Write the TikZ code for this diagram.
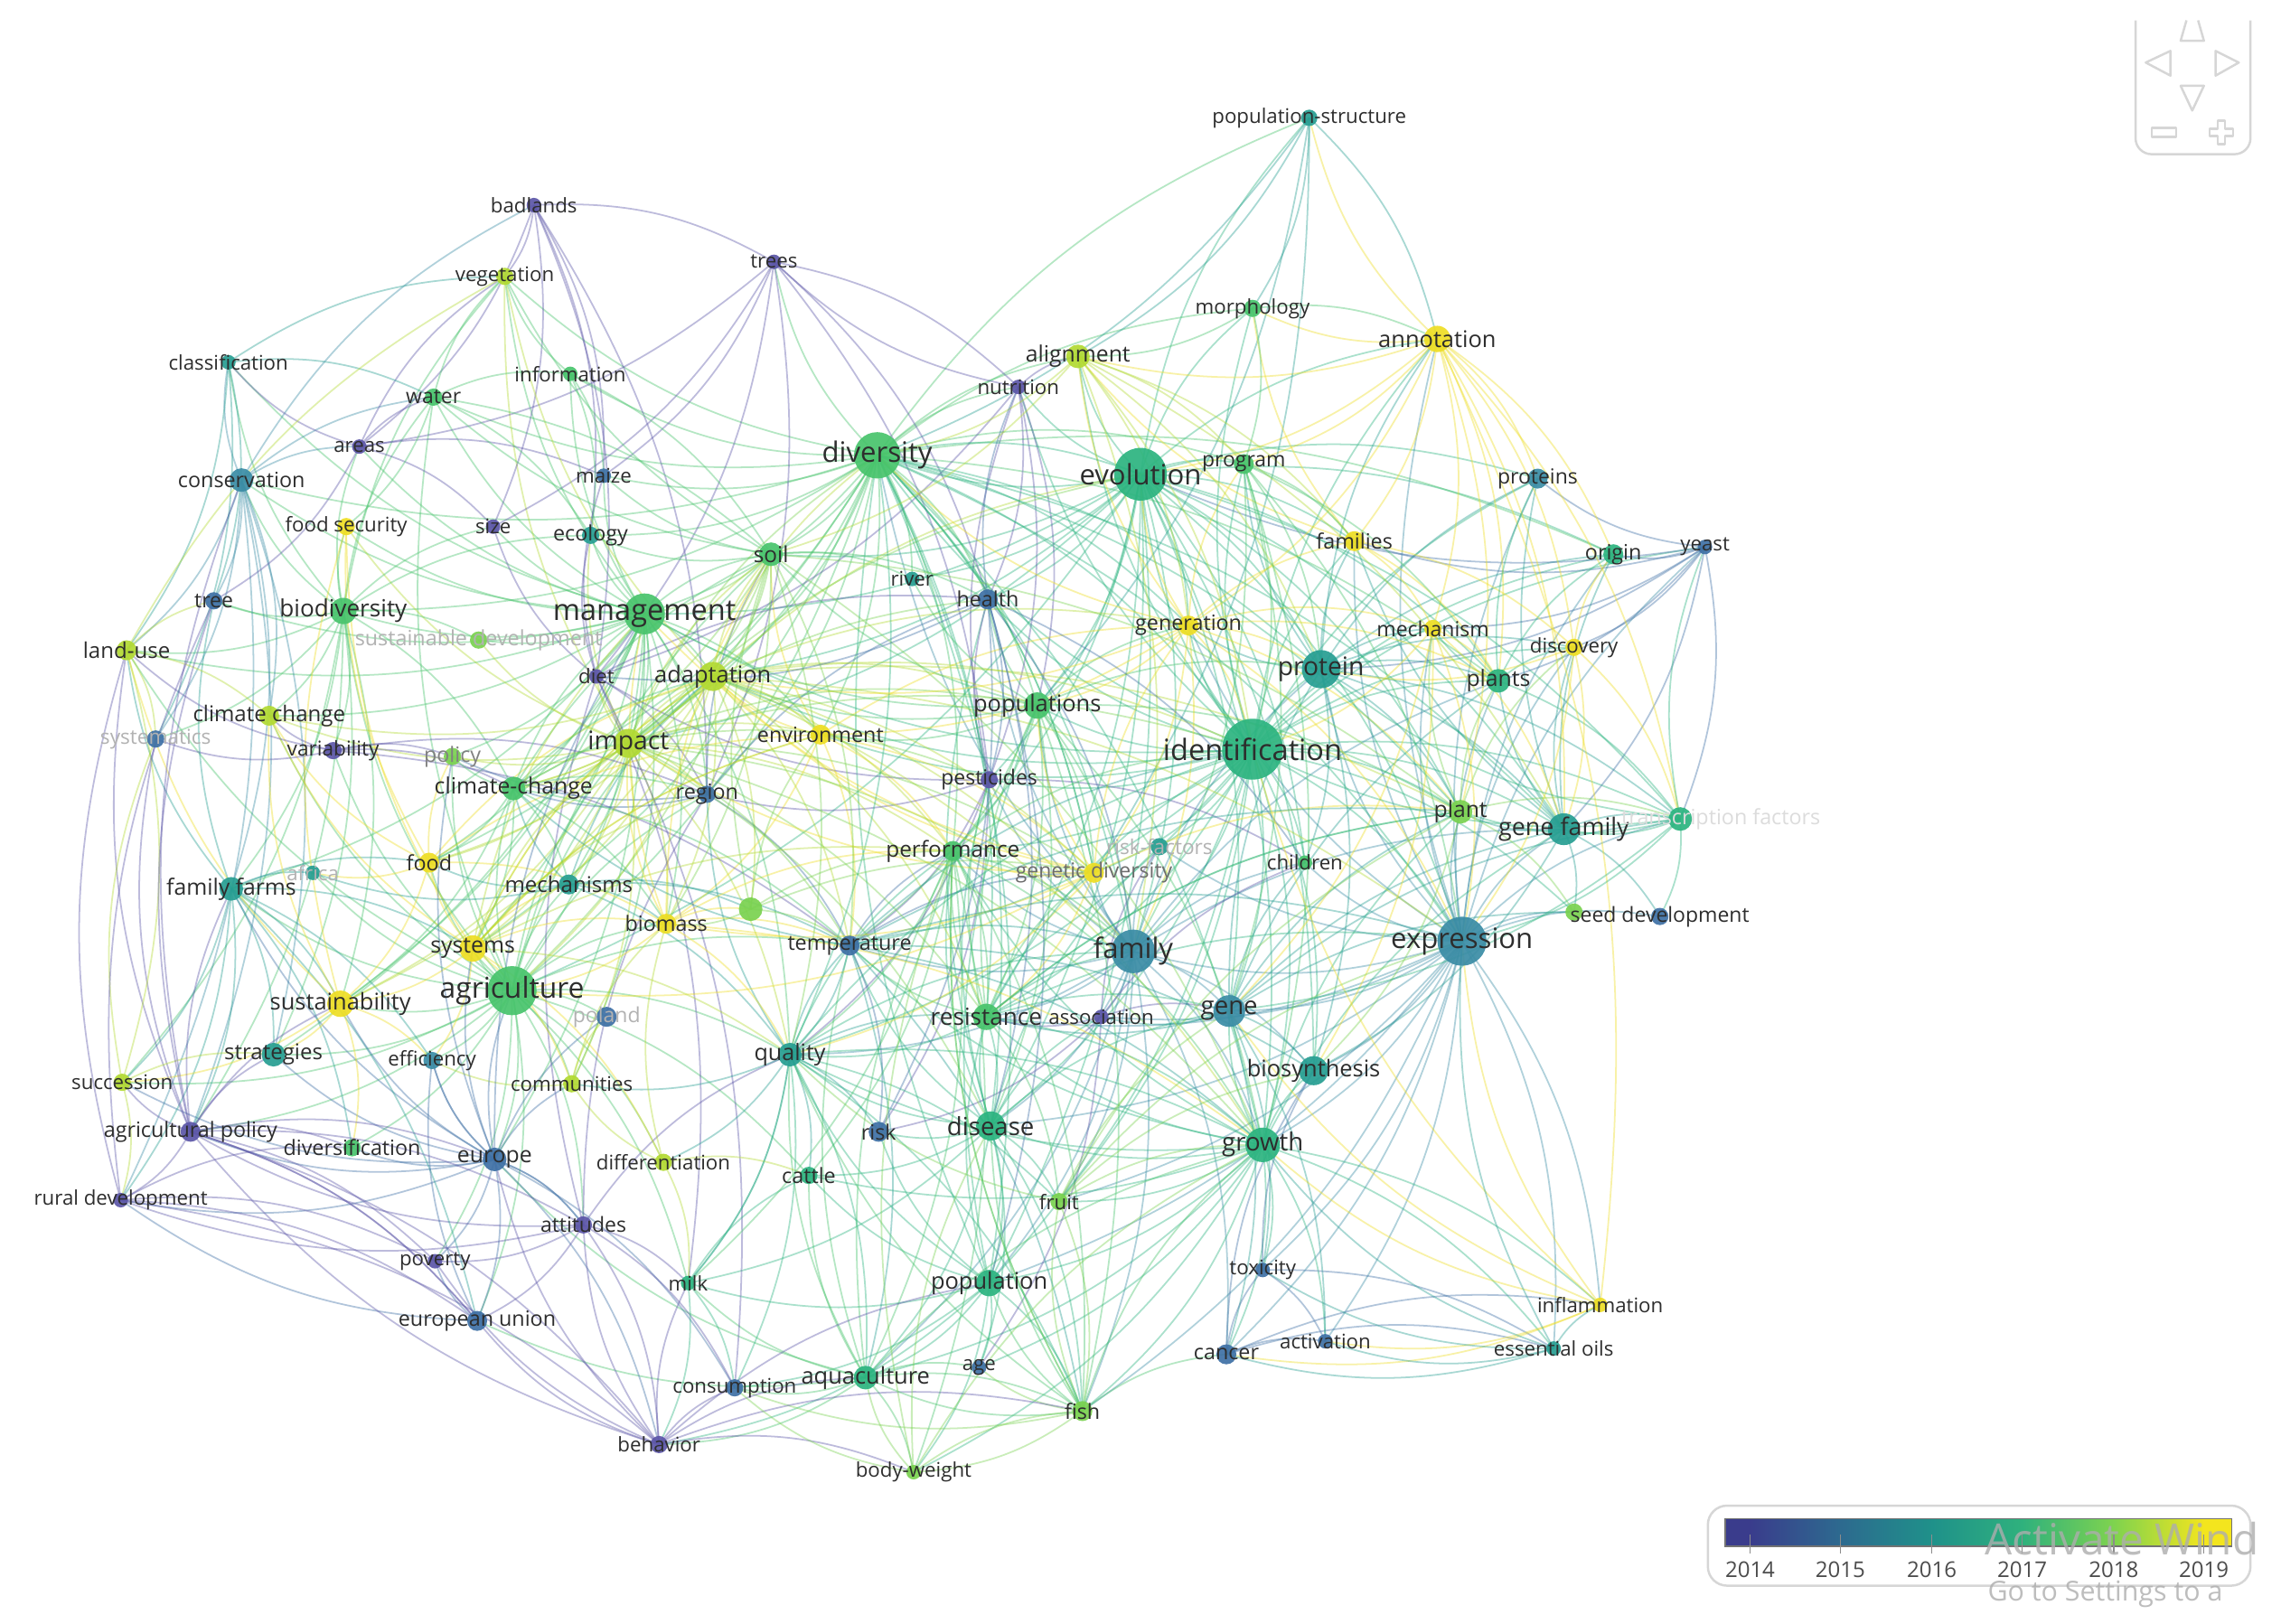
\documentclass[tikz,border=0pt]{standalone}
\usepackage{fontspec}
\setmainfont{Open Sans}
\usetikzlibrary{calc}
\pgfdeclarelayer{bg}
\pgfdeclarelayer{edges}
\pgfdeclarelayer{labels}
\pgfsetlayers{bg,edges,main,labels}
\definecolor{c14}{RGB}{92,86,168}
\definecolor{c15}{RGB}{62,112,165}
\definecolor{c155}{RGB}{58,140,165}
\definecolor{c16}{RGB}{38,158,146}
\definecolor{c165}{RGB}{44,180,128}
\definecolor{c17}{RGB}{72,196,108}
\definecolor{c175}{RGB}{122,210,80}
\definecolor{c18}{RGB}{178,218,50}
\definecolor{c19}{RGB}{238,222,36}
\definecolor{lbl}{RGB}{45,45,45}
\definecolor{faint}{RGB}{178,178,178}
\definecolor{navgray}{RGB}{214,214,214}
\definecolor{v14}{RGB}{58,60,140}
\definecolor{v15}{RGB}{45,106,143}
\definecolor{v16}{RGB}{31,145,138}
\definecolor{v17}{RGB}{47,177,125}
\definecolor{v18}{RGB}{127,211,78}
\definecolor{v19}{RGB}{243,229,30}
\pgfdeclarehorizontalshading{viridis}{100bp}{color(0bp)=(v14); color(27.4bp)=(v14); color(36.4bp)=(v15); color(45.4bp)=(v16); color(54.3bp)=(v17); color(63.4bp)=(v18); color(72.3bp)=(v19); color(100bp)=(v19)}
\tikzset{
  kwnode/.style={circle,inner sep=0pt,fill opacity=0.92,draw=none},
  kwlabel/.style={inner sep=0pt,text=lbl},
  kwfaint/.style={inner sep=0pt,text=faint},
  ed/.style={line width=0.5pt,draw opacity=0.4},
  navline/.style={draw=navgray,line width=0.7pt,line join=round},
  legtxt/.style={inner sep=0pt,text=lbl!85,font=\fontsize{6.8}{7}\selectfont}
}
\newcommand\kw[7]{%
  \node[kwnode,minimum size=#4mm,fill=#5] (#1) at (#2,#3) {};
  \begin{pgfonlayer}{labels}\node[kwlabel,font={\fontsize{#6}{#6}\selectfont}] (#1l) at (#2,#3) {#7};\end{pgfonlayer}}
\newcommand\kwf[7]{%
  \node[kwnode,minimum size=#4mm,fill=#5] (#1) at (#2,#3) {};
  \begin{pgfonlayer}{labels}\node[kwfaint,font={\fontsize{#6}{#6}\selectfont}] (#1l) at (#2,#3) {#7};\end{pgfonlayer}}
\newcommand\kwn[5]{%
  \node[kwnode,minimum size=#4mm,fill=#5] (#1) at (#2,#3) {};}
\newcommand\kwlinks[3]{\foreach \kwt in {#3}{\draw[ed,draw=#2] (#1.center) to[bend left=16] (\kwt.center);}}
\begin{document}
\begin{tikzpicture}[x=0.016cm,y=-0.016cm]
\useasboundingbox (0,0) rectangle (1568,1116);
\begin{pgfonlayer}{bg}
\fill[white] (0,0) rectangle (1568,1116);
\end{pgfonlayer}
% ---------------- nodes ----------------
\kw{popstr}{900}{81}{1.8}{c16}{6.3}{population-structure}
\kw{badlands}{367}{141}{1.6}{c14}{6.3}{badlands}
\kw{trees}{532}{180}{1.6}{c14}{6.3}{trees}
\kw{vegetation}{347}{190}{1.9}{c18}{6.3}{vegetation}
\kw{morphology}{861}{212}{1.9}{c17}{6.3}{morphology}
\kw{annotation}{988}{233}{2.9}{c19}{7.2}{annotation}
\kw{alignment}{741}{245}{2.6}{c18}{7.0}{alignment}
\kw{nutrition}{700}{266}{1.6}{c14}{6.3}{nutrition}
\kw{classification}{157}{249}{1.6}{c16}{6.3}{classification}
\kw{information}{392}{257}{1.6}{c17}{6.3}{information}
\kw{water}{298}{273}{1.9}{c17}{6.5}{water}
\kw{areas}{247}{307}{1.6}{c14}{6.3}{areas}
\kw{diversity}{603}{313}{5.1}{c17}{8.8}{diversity}
\kw{evolution}{784}{326}{5.8}{c165}{8.8}{evolution}
\kw{program}{855}{319}{2.2}{c17}{6.5}{program}
\kw{proteins}{1057}{329}{2.2}{c155}{6.5}{proteins}
\kw{conservation}{166}{330}{2.6}{c155}{6.6}{conservation}
\kw{maize}{415}{327}{1.6}{c15}{6.3}{maize}
\kw{foodsec}{238}{362}{1.9}{c19}{6.3}{food security}
\kw{size}{339}{362}{1.6}{c14}{6.3}{size}
\kw{ecology}{406}{368}{1.9}{c16}{6.6}{ecology}
\kw{soil}{530}{381}{2.6}{c17}{6.9}{soil}
\kw{families}{931}{372}{2.2}{c19}{6.6}{families}
\kw{origin}{1109}{381}{2.2}{c165}{6.6}{origin}
\kw{yeast}{1172}{376}{1.6}{c15}{6.3}{yeast}
\kw{river}{627}{398}{1.6}{c16}{6.3}{river}
\kw{health}{679}{412}{2.2}{c15}{6.6}{health}
\kw{tree}{147}{413}{1.9}{c15}{6.5}{tree}
\kw{biodiv}{236}{420}{2.9}{c17}{7.4}{biodiversity}
\kw{management}{443}{422}{4.5}{c17}{9.2}{management}
\kw{generation}{817}{430}{2.2}{c19}{6.6}{generation}
\kw{mechanism}{985}{432}{1.9}{c19}{6.5}{mechanism}
\kw{discovery}{1082}{445}{1.9}{c19}{6.3}{discovery}
\kw{landuse}{87}{447}{2.2}{c18}{6.8}{land-use}
\kwf{susdev}{329}{440}{1.9}{c175}{6.6}{sustainable development}
\kw{diet}{410}{465}{1.6}{c14}{6.3}{diet}
\kw{adaptation}{490}{465}{3.2}{c18}{7.2}{adaptation}
\kw{protein}{908}{460}{4.2}{c16}{8.0}{protein}
\kw{plants}{1030}{468}{2.6}{c165}{7.0}{plants}
\kw{populations}{713}{485}{2.9}{c17}{7.2}{populations}
\kw{climchg}{185}{492}{2.2}{c18}{6.8}{climate change}
\kwf{systematics}{107}{508}{1.9}{c15}{6.4}{systematics}
\kw{environment}{564}{505}{2.2}{c19}{6.6}{environment}
\kw{impact}{432}{511}{3.2}{c18}{8.0}{impact}
\kw{ident}{861}{515}{6.7}{c165}{9.2}{identification}
\kw{variability}{229}{516}{1.9}{c14}{6.4}{variability}
\node[kwnode,minimum size=1.9mm,fill=c175] (policy) at (311,520) {};
\begin{pgfonlayer}{labels}\node[inner sep=0pt,text=lbl!60,font={\fontsize{6.6}{6.6}\selectfont}] (policyl) at (311,520) {policy};\end{pgfonlayer}
\kw{climchg2}{353}{542}{2.6}{c17}{7.0}{climate-change}
\kw{region}{486}{546}{1.9}{c15}{6.6}{region}
\kw{pesticides}{680}{536}{1.9}{c14}{6.5}{pesticides}
\kw{plant}{1004}{558}{2.6}{c175}{7.0}{plant}
\kw{genefam}{1075}{570}{3.5}{c16}{7.6}{gene family}
\node[kwnode,minimum size=2.6mm,fill=c165] (tfactors) at (1155,563) {};
\begin{pgfonlayer}{labels}\node[inner sep=0pt,text=faint!45,font={\fontsize{6.6}{6.6}\selectfont}] (tfactorsl) at (1183,563) {transcription factors};\end{pgfonlayer}
\kw{performance}{655}{585}{2.2}{c17}{6.9}{performance}
\kwf{riskfac}{797}{582}{1.9}{c16}{6.4}{risk-factors}
\node[kwnode,minimum size=2.2mm,fill=c19] (genediv) at (752,600) {};
\begin{pgfonlayer}{labels}\node[inner sep=0pt,text=lbl!70,font={\fontsize{6.5}{6.5}\selectfont}] (genedivl) at (752,600) {genetic diversity};\end{pgfonlayer}
\kw{children}{897}{593}{1.6}{c17}{6.3}{children}
\kwf{africa}{215}{600}{1.6}{c16}{6.3}{africa}
\kw{food}{295}{593}{2.2}{c19}{6.6}{food}
\kw{famfarms}{159}{611}{2.6}{c16}{7.0}{family farms}
\kw{mechanisms}{391}{608}{2.2}{c16}{6.8}{mechanisms}
\kwn{unk}{516}{625}{2.6}{c175}
\kw{biomass}{458}{635}{2.2}{c19}{6.6}{biomass}
\kwn{seedg}{1082}{627}{1.9}{c175}
\kw{seeddev}{1141}{630}{1.9}{c15}{6.5}{seed development}
\kw{temperature}{584}{650}{2.2}{c15}{6.6}{temperature}
\kw{systems}{325}{652}{2.9}{c19}{7.0}{systems}
\kw{family}{779}{654}{4.8}{c155}{8.8}{family}
\kw{expression}{1005}{647}{5.4}{c155}{8.8}{expression}
\kw{agriculture}{352}{681}{5.4}{c17}{9.0}{agriculture}
\kw{sustain}{234}{690}{2.9}{c19}{7.2}{sustainability}
\kwf{poland}{417}{699}{2.2}{c15}{6.5}{poland}
\kw{resistance}{678}{699}{2.9}{c17}{7.4}{resistance}
\kw{association}{757}{699}{1.6}{c14}{6.3}{association}
\kw{gene}{845}{695}{3.5}{c155}{7.8}{gene}
\kw{strategies}{188}{725}{2.6}{c16}{6.8}{strategies}
\kw{efficiency}{297}{729}{1.9}{c155}{6.3}{efficiency}
\kw{quality}{543}{725}{2.6}{c16}{7.1}{quality}
\kw{biosynth}{903}{736}{3.2}{c16}{7.2}{biosynthesis}
\kw{succession}{84}{744}{1.9}{c18}{6.3}{succession}
\kw{communities}{393}{745}{1.9}{c18}{6.3}{communities}
\kw{agpolicy}{131}{778}{2.2}{c14}{6.6}{agricultural policy}
\kw{risk}{604}{778}{2.2}{c15}{6.6}{risk}
\kw{disease}{681}{774}{3.2}{c165}{7.8}{disease}
\kw{growth}{868}{787}{3.8}{c165}{7.8}{growth}
\kw{diversification}{242}{789}{1.9}{c17}{6.6}{diversification}
\kw{europe}{340}{797}{2.6}{c15}{7.0}{europe}
\kw{differentiation}{456}{799}{1.9}{c18}{6.3}{differentiation}
\kw{cattle}{556}{808}{1.9}{c165}{6.6}{cattle}
\kw{fruit}{728}{826}{1.9}{c175}{6.3}{fruit}
\kw{ruraldev}{83}{825}{1.6}{c14}{6.3}{rural development}
\kw{attitudes}{401}{842}{1.9}{c14}{6.5}{attitudes}
\kw{poverty}{299}{867}{1.6}{c14}{6.3}{poverty}
\kw{toxicity}{868}{873}{1.6}{c15}{6.3}{toxicity}
\kw{milk}{473}{882}{1.6}{c165}{6.3}{milk}
\kw{population}{680}{882}{2.9}{c165}{7.2}{population}
\kw{inflammation}{1100}{897}{1.6}{c19}{6.3}{inflammation}
\kw{eu}{328}{908}{2.2}{c15}{6.6}{european union}
\kw{activation}{911}{922}{1.6}{c15}{6.3}{activation}
\kw{cancer}{843}{931}{2.2}{c15}{6.6}{cancer}
\kw{essoils}{1068}{927}{1.6}{c16}{6.3}{essential oils}
\kw{age}{673}{940}{1.6}{c15}{6.3}{age}
\kw{aquaculture}{595}{947}{2.6}{c165}{7.2}{aquaculture}
\kw{consumption}{505}{954}{1.9}{c15}{6.3}{consumption}
\kw{fish}{744}{970}{2.2}{c175}{6.6}{fish}
\kw{behavior}{453}{993}{1.9}{c14}{6.3}{behavior}
\kw{bodyweight}{628}{1012}{1.6}{c175}{6.3}{body-weight}
% ---------------- edges ----------------
\begin{pgfonlayer}{edges}
\kwlinks{ident}{c165}{evolution,protein,family,expression,gene,genefam,plants,plant,diversity,populations,growth,disease,resistance,biosynth,children,generation,mechanism,families,program,proteins,origin,discovery,tfactors,riskfac,performance,population,fruit,health,alignment,annotation,seedg,quality,pesticides,environment,management,adaptation,morphology,nutrition,yeast,temperature,genediv}
\kwlinks{evolution}{c165}{diversity,family,expression,protein,gene,genefam,program,morphology,popstr,alignment,populations,plants,generation,nutrition,health,soil,annotation,growth,biosynth,disease,families,origin,proteins,river,children,population,resistance,management,adaptation,agriculture,impact,pesticides,performance,plant,tfactors}
\kwlinks{expression}{c155}{family,gene,genefam,protein,plants,plant,growth,biosynth,seeddev,seedg,tfactors,origin,proteins,yeast,discovery,mechanism,toxicity,cancer,activation,inflammation,essoils,children,resistance,disease,association,riskfac,generation,annotation,families,population,fruit,fish}
\kwlinks{family}{c155}{gene,protein,genefam,growth,biosynth,disease,resistance,association,genediv,riskfac,children,performance,populations,plants,population,fruit,fish,cancer,diversity,temperature,quality,aquaculture,pesticides,health}
\kwlinks{diversity}{c17}{management,agriculture,soil,biodiv,impact,adaptation,populations,alignment,nutrition,health,river,water,information,vegetation,morphology,trees,ecology,maize,conservation,climchg2,genediv,performance,environment,popstr,program,region,food,systems,plants,origin}
\kwlinks{management}{c17}{agriculture,impact,adaptation,biodiv,soil,climchg2,systems,sustain,conservation,foodsec,water,information,vegetation,ecology,maize,diet,policy,food,region,environment,mechanisms,biomass,tree,landuse,climchg,quality,strategies,famfarms,size,areas,classification,susdev,communities,europe}
\kwlinks{agriculture}{c17}{impact,systems,sustain,food,biodiv,climchg2,mechanisms,biomass,communities,efficiency,strategies,europe,diversification,differentiation,famfarms,poland,policy,region,quality,temperature,attitudes,eu,succession,agpolicy,landuse,climchg,adaptation,soil,water,variability,africa,poverty,milk,cattle}
\kwlinks{impact}{c18}{adaptation,climchg2,systems,food,environment,policy,region,biomass,mechanisms,diet,foodsec,susdev,quality,performance,soil,ecology,vegetation,sustain,climchg,communities}
\kwlinks{growth}{c165}{disease,biosynth,gene,toxicity,cancer,activation,population,fish,fruit,resistance,performance,bodyweight,quality,aquaculture,essoils,inflammation,temperature,cattle,age,plant,genefam}
\kwlinks{disease}{c165}{resistance,population,risk,cattle,quality,temperature,fruit,age,aquaculture,milk,performance,gene,fish,pesticides,health,association,riskfac}
\kwlinks{population}{c165}{aquaculture,fish,age,milk,consumption,bodyweight,cattle,quality,risk,behavior,diversity,populations,resistance}
\kwlinks{aquaculture}{c17}{fish,bodyweight,consumption,behavior,milk,age,cattle,quality,performance,temperature,growth,europe,eu}
\kwlinks{gene}{c16}{biosynth,genefam,protein,resistance,association,toxicity,cancer,plants,plant,children,seedg,tfactors,activation}
\kwlinks{protein}{c16}{genefam,plants,plant,biosynth,mechanism,families,discovery,origin,proteins,tfactors,annotation,program,generation,children}
\kwlinks{genefam}{c16}{plants,plant,tfactors,seedg,seeddev,biosynth,origin,discovery,proteins,families}
\kwlinks{yeast}{c15}{proteins,origin,plants,genefam,discovery,families,protein,tfactors,mechanism,evolution}
\kwlinks{annotation}{c19}{alignment,families,morphology,program,popstr,discovery,mechanism,plants,generation,genefam,tfactors,inflammation,proteins,origin,plant,evolution}
\kwlinks{popstr}{c16}{morphology,diversity,annotation,populations,genediv,alignment}
\kwlinks{biodiv}{c17}{conservation,tree,landuse,climchg,areas,classification,water,vegetation,foodsec,famfarms,systematics,strategies,succession,variability,susdev,sustain,ecology,size,agpolicy,climchg2}
\kwlinks{conservation}{c155}{classification,areas,tree,water,famfarms,systematics,agpolicy,badlands,landuse,climchg,ruraldev,strategies}
\kwlinks{badlands}{c14}{areas,vegetation,diet,trees,size,maize,region,ecology}
\kwlinks{trees}{c14}{areas,diet,maize,pesticides,health,nutrition,region,size}
\kwlinks{europe}{c15}{eu,agpolicy,attitudes,poverty,efficiency,diversification,strategies,famfarms,ruraldev,behavior,consumption,succession,poland}
\kwlinks{attitudes}{c14}{behavior,poverty,eu,consumption,agpolicy,ruraldev,milk,diet,region,quality}
\kwlinks{famfarms}{c16}{strategies,africa,agpolicy,ruraldev,succession,diversification,efficiency,sustain,food,systems,landuse,tree,eu}
\kwlinks{systems}{c19}{sustain,food,foodsec,biomass,mechanisms,climchg,adaptation,environment,communities,efficiency,differentiation}
\kwlinks{food}{c19}{foodsec,sustain,biomass,environment,climchg,adaptation,policy,africa}
\kwlinks{sustain}{c19}{foodsec,climchg,landuse,succession,strategies,diversification,efficiency}
\kwlinks{environment}{c19}{adaptation,biomass,genediv,performance,soil,generation,temperature}
\kwlinks{generation}{c19}{families,mechanism,genediv,plant,program,alignment}
\kwlinks{families}{c19}{mechanism,discovery,plants,alignment,morphology}
\kwlinks{pesticides}{c14}{health,region,risk,temperature,quality,nutrition,diet,children}
\kwlinks{association}{c14}{riskfac,children,resistance,gene,risk,age}
\kwlinks{nutrition}{c14}{health,alignment,populations,diet,pesticides,trees}
\kwlinks{variability}{c14}{climchg,policy,climchg2,landuse,systematics,region,temperature}
\kwlinks{agpolicy}{c14}{ruraldev,succession,strategies,sustain,diversification,eu,poverty,landuse,systematics}
\kwlinks{diet}{c14}{region,health,size,maize,ecology,consumption,milk}
\kwlinks{areas}{c14}{size,maize,water,classification,tree,vegetation}
\kwlinks{mechanisms}{c16}{biomass,climchg2,adaptation,temperature,quality,unk,food,africa}
\kwlinks{adaptation}{c18}{climchg2,soil,environment,biomass,unk,climchg,populations,vegetation}
\kwlinks{unk}{c175}{biomass,temperature,performance,environment,soil,genediv}
\kwlinks{quality}{c16}{cattle,milk,temperature,risk,resistance,differentiation,communities,region}
\kwlinks{resistance}{c17}{performance,temperature,pesticides,fruit,plant,genediv,populations}
\kwlinks{cancer}{c15}{toxicity,activation,inflammation,essoils,biosynth}
\kwlinks{toxicity}{c15}{activation,biosynth,essoils}
\kwlinks{plant}{c175}{plants,seedg,tfactors,mechanism,discovery,biosynth}
\kwlinks{plants}{c165}{origin,discovery,mechanism,tfactors,proteins}
\kwlinks{fish}{c175}{bodyweight,fruit,consumption,age,performance}
\kwlinks{region}{c15}{temperature,climchg2,policy,health,soil}
\kwlinks{classification}{c16}{water,tree,landuse,systematics,vegetation}
\kwlinks{water}{c17}{vegetation,information,soil,ecology,foodsec}
\kwlinks{information}{c17}{vegetation,soil,ecology,maize}
\kwlinks{soil}{c17}{ecology,maize,river,health,vegetation,water}
\kwlinks{landuse}{c18}{climchg,succession,tree,vegetation,systematics}
\kwlinks{succession}{c18}{ruraldev,systematics,strategies}
\kwlinks{differentiation}{c18}{communities,biomass,cattle,milk}
\kwlinks{communities}{c18}{efficiency,poland,biomass}
\kwlinks{milk}{c165}{consumption,cattle,behavior}
\kwlinks{behavior}{c14}{consumption,bodyweight,eu,poverty,aquaculture}
\kwlinks{eu}{c15}{poverty,efficiency,ruraldev}
\kwlinks{temperature}{c15}{performance,risk,genediv}
\kwlinks{morphology}{c17}{alignment,program,annotation}
% additional links
\kwlinks{adaptation}{c18}{ident,family,evolution,expression,diversity,genediv,performance,resistance,temperature,growth,plant,generation,food,systems,sustain,agriculture,climchg2}
\kwlinks{impact}{c175}{ident,family,populations,disease,resistance,growth,temperature,diversity,evolution,genediv,health,pesticides}
\kwlinks{diversity}{c165}{ident,evolution,family,protein,genefam,expression,genediv,resistance,disease,plant,growth,generation,quality,population}
\kwlinks{populations}{c17}{genediv,resistance,disease,performance,environment,adaptation,management,soil,river,health,growth,family,protein,plant,generation,temperature,fish}
\kwlinks{generation}{c19}{ident,evolution,protein,family,expression,plants,populations,environment,adaptation,diversity}
\kwlinks{genediv}{c19}{populations,resistance,performance,plant,agriculture,management,impact,adaptation,biomass,generation,quality}
\kwlinks{alignment}{c18}{protein,ident,family,genefam,diversity,families,program,generation,soil}
\kwlinks{program}{c17}{ident,protein,expression,family,gene,growth,plants,families}
\kwlinks{mechanism}{c19}{expression,gene,plants,biosynth,genefam,ident}
\kwlinks{discovery}{c19}{expression,genefam,protein,origin,tfactors}
\kwlinks{biomass}{c19}{impact,agriculture,management,temperature,growth,performance,soil,unk,quality}
\kwlinks{soil}{c175}{impact,agriculture,management,adaptation,biomass,climchg2,quality,temperature,growth,plant}
\kwlinks{temperature}{c16}{growth,family,expression,ident,biosynth,plant,climchg2,aquaculture,fish,quality}
\kwlinks{performance}{c17}{growth,family,ident,aquaculture,fish,bodyweight,quality,milk,cattle,resistance}
\kwlinks{quality}{c165}{growth,ident,family,fruit,fish,aquaculture,milk,consumption,performance}
\kwlinks{climchg2}{c17}{adaptation,food,mechanisms,systems,sustain,policy,region,biomass,temperature,soil,impact,management}
\kwlinks{systems}{c18}{management,impact,adaptation,environment,performance,quality,region}
\kwlinks{health}{c15}{diet,nutrition,pesticides,risk,disease,population,children,family}
\kwlinks{fruit}{c175}{plant,expression,gene,biosynth,growth,quality,fish}
\kwlinks{resistance}{c165}{gene,ident,expression,family,disease,plant,growth,quality}
\kwlinks{europe}{c15}{agriculture,management,sustain,systems,policy,attitudes,communities,efficiency}
\kwlinks{agpolicy}{c14}{eu,behavior,attitudes,europe,famfarms,conservation,tree}
\kwlinks{ruraldev}{c14}{eu,poverty,behavior,diversification,tree,landuse}
\kwlinks{behavior}{c14}{attitudes,europe,agpolicy,milk,fish,population}
\kwlinks{fish}{c17}{aquaculture,growth,population,quality,disease,performance,cancer}
\kwlinks{bodyweight}{c175}{growth,aquaculture,fish,performance,consumption,disease}
\kwlinks{inflammation}{c19}{expression,growth,cancer,activation,ident,gene}
\kwlinks{essoils}{c16}{expression,growth,cancer,activation,toxicity,inflammation}
\kwlinks{tfactors}{c165}{expression,genefam,gene,protein,plant,yeast,seeddev,ident}
\end{pgfonlayer}
% ---------------- navigation widget ----------------
\draw[navline,rounded corners=5pt] (1468,14) -- (1468,106) -- (1547,106) -- (1547,14);
\draw[navline] (1492,35) -- (1475,43) -- (1492,52) -- cycle;
\draw[navline] (1523,35) -- (1539,43) -- (1523,52) -- cycle;
\draw[navline] (1499,59) -- (1515,59) -- (1507,76) -- cycle;
\draw[navline] (1503,14) -- (1499,28) -- (1515,28) -- (1511,14);
\draw[navline] (1479,88) rectangle (1496,94);
\draw[navline] (1524.5,83) -- (1529.5,83) -- (1529.5,88.5) -- (1535,88.5) -- (1535,93.5) -- (1529.5,93.5) -- (1529.5,99) -- (1524.5,99) -- (1524.5,93.5) -- (1519,93.5) -- (1519,88.5) -- (1524.5,88.5) -- cycle;
% ---------------- legend ----------------
\draw[draw=navgray,line width=0.7pt,fill=white,rounded corners=6pt] (1174,1035) rectangle (1547,1090);
\shade[shading=viridis] (1186,1044) rectangle (1534,1063);
\draw[draw=black!55,line width=0.4pt] (1186,1044) rectangle (1534,1063);
\foreach \yr/\xx in {2014/1203,2015/1265,2016/1328,2017/1390,2018/1453,2019/1515}{
  \draw[black!45,line width=0.4pt] (\xx,1055) -- (\xx,1068);
  \node[legtxt] (leg\yr) at (\xx,1079) {\yr};
}
% ---------------- watermark ----------------
\node[anchor=west,inner sep=0pt,text=black!32,text opacity=0.8,font={\fontsize{13.5}{14}\selectfont}] (wm1) at (1364,1058) {Activate Wind};
\node[anchor=west,inner sep=0pt,text=black!32,text opacity=0.8,font={\fontsize{8.6}{9}\selectfont}] (wm2) at (1366,1096) {Go to Settings to a};
\end{tikzpicture}
\end{document}
